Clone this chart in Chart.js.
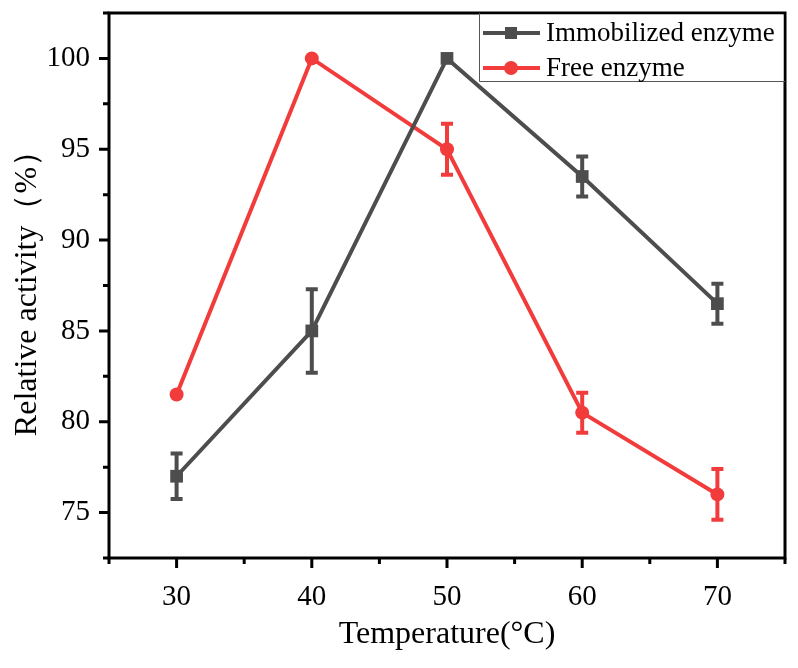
<!DOCTYPE html>
<html>
<head>
<meta charset="utf-8">
<script src="https://cdn.jsdelivr.net/npm/chart.js@4.4.0/dist/chart.umd.min.js"></script>
<style>
  html, body { margin: 0; padding: 0; background: #fff; }
  #wrap { width: 798px; height: 668px; }
</style>
</head>
<body>
<div id="wrap"><canvas id="myChart" width="798" height="668"></canvas></div>
<script>
const temps = [30, 40, 50, 60, 70]
const immobilized = [77, 85, 100, 93.5, 86.5]
const immobilizedErr = [1.25, 2.3, 0, 1.1, 1.1]
const free = [81.5, 100, 95, 80.5, 76]
const freeErr = [0, 0, 1.4, 1.1, 1.4]
const xTicks = [30, 40, 50, 60, 70]
const yTicks = [75, 80, 85, 90, 95, 100]

const grey = '#4d4d4d'
const red = '#f23c3c'
const font = '"Liberation Serif", "Times New Roman", serif'

function points(ys) {
  return temps.map((t, i) => ({ x: t, y: ys[i] }))
}

// error bars, tick marks, frame and legend
const extras = {
  id: 'extras',
  beforeDatasetsDraw(chart) {
    const ctx = chart.ctx
    const xs = chart.scales.x
    const ys = chart.scales.y
    const sets = [[immobilized, immobilizedErr, grey], [free, freeErr, red]]
    ctx.save()
    ctx.lineWidth = 4
    sets.forEach(([vals, errs, col]) => {
      ctx.strokeStyle = col
      for (let i = 0; i < temps.length; i++) {
        if (!errs[i]) continue
        let px = xs.getPixelForValue(temps[i])
        let top = ys.getPixelForValue(vals[i] + errs[i])
        let bot = ys.getPixelForValue(vals[i] - errs[i])
        ctx.beginPath()
        ctx.moveTo(px, top); ctx.lineTo(px, bot)
        ctx.moveTo(px - 6, top); ctx.lineTo(px + 6, top)
        ctx.moveTo(px - 6, bot); ctx.lineTo(px + 6, bot)
        ctx.stroke()
      }
    })
    ctx.restore()
  },
  afterDraw(chart) {
    const ctx = chart.ctx
    const a = chart.chartArea
    const xs = chart.scales.x
    const ys = chart.scales.y
    ctx.save()
    ctx.strokeStyle = '#000'
    ctx.lineWidth = 3
    // ticks
    ctx.beginPath()
    for (let v = 25; v <= 75; v += 5) {
      let px = xs.getPixelForValue(v)
      let len = v % 10 === 0 ? 10 : 6
      ctx.moveTo(px, a.bottom); ctx.lineTo(px, a.bottom + len)
    }
    for (let v = 72.5; v <= 102.5; v += 2.5) {
      let py = ys.getPixelForValue(v)
      let len = v % 5 === 0 ? 10 : 6
      ctx.moveTo(a.left, py); ctx.lineTo(a.left - len, py)
    }
    ctx.stroke()
    ctx.strokeRect(a.left, a.top, a.right - a.left, a.bottom - a.top)

    // legend
    const lx = 479, ly = a.top, lw = a.right - lx, lh = 68
    ctx.fillStyle = '#fff'
    ctx.fillRect(lx, ly + 1.5, lw - 1.5, lh - 1.5)
    ctx.lineWidth = 1
    ctx.strokeStyle = '#555'
    ctx.beginPath()
    ctx.moveTo(lx + 0.5, ly); ctx.lineTo(lx + 0.5, ly + lh + 0.5); ctx.lineTo(a.right, ly + lh + 0.5)
    ctx.stroke()
    const rows = [['Immobilized enzyme', grey, 'rect'], ['Free enzyme', red, 'circle']]
    ctx.font = '27px ' + font
    ctx.textBaseline = 'middle'
    rows.forEach(([txt, col, shape], i) => {
      let y = ly + 20 + i * 35
      ctx.strokeStyle = col
      ctx.fillStyle = col
      ctx.lineWidth = 4
      ctx.beginPath(); ctx.moveTo(483, y); ctx.lineTo(540, y); ctx.stroke()
      if (shape === 'rect') ctx.fillRect(505, y - 6, 12, 12)
      else { ctx.beginPath(); ctx.arc(511, y, 7, 0, Math.PI * 2); ctx.fill() }
      ctx.fillStyle = '#000'
      ctx.fillText(txt, 546, y + 1)
    })
    ctx.restore()
  }
}

let ctx = document.getElementById('myChart').getContext('2d')
let chart = new Chart(ctx, {
  type: 'line',
  data: {
    datasets: [{
      label: 'Immobilized enzyme',
      data: points(immobilized),
      borderColor: grey,
      backgroundColor: grey,
      borderWidth: 4,
      pointStyle: 'rect',
      pointRadius: 9,
      pointBorderWidth: 0
    }, {
      label: 'Free enzyme',
      data: points(free),
      borderColor: red,
      backgroundColor: red,
      borderWidth: 4,
      pointStyle: 'circle',
      pointRadius: 7,
      pointBorderWidth: 0
    }]
  },
  options: {
    responsive: false,
    animation: false,
    layout: { padding: { top: 13, right: 13, left: 0, bottom: 0 } },
    plugins: { legend: { display: false }, tooltip: { enabled: false } },
    scales: {
      x: {
        type: 'linear',
        min: 25, max: 75,
        grid: { display: false, drawTicks: false },
        border: { display: false },
        afterBuildTicks: s => { s.ticks = xTicks.map(v => ({ value: v })) },
        afterFit: s => { s.height = 110; s.paddingLeft = 0; s.paddingRight = 0 },
        ticks: { color: '#000', padding: 22, font: { family: font, size: 29 } },
        title: { display: true, text: 'Temperature(°C)', color: '#000', padding: { top: 0, bottom: 14 }, font: { family: font, size: 32 } }
      },
      y: {
        type: 'linear',
        min: 72.5, max: 102.5,
        grid: { display: false, drawTicks: false },
        border: { display: false },
        afterBuildTicks: s => { s.ticks = yTicks.map(v => ({ value: v })) },
        afterFit: s => { s.width = 109; s.paddingTop = 0; s.paddingBottom = 0 },
        ticks: { color: '#000', padding: 19, font: { family: font, size: 29 } },
        title: { display: true, text: 'Relative activity（%）', color: '#000', padding: { top: 8, bottom: 0 }, font: { family: font, size: 32 } }
      }
    }
  },
  plugins: [extras]
})
</script>
</body>
</html>
